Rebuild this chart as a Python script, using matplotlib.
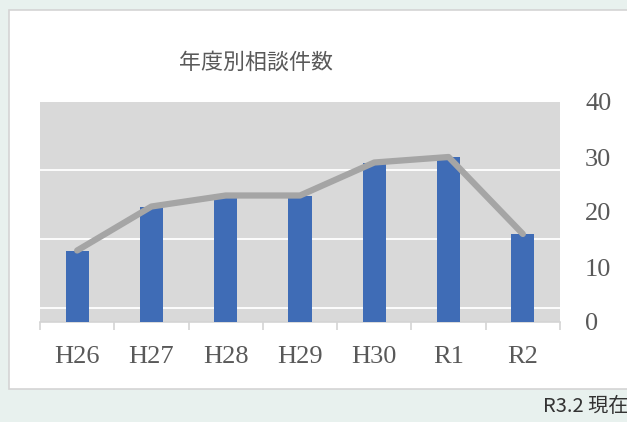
import numpy as np
import matplotlib.pyplot as plt
from matplotlib.patches import Rectangle

# 年度別相談件数
nendo = ['H26', 'H27', 'H28', 'H29', 'H30', 'R1', 'R2']
kensu = [13, 21, 23, 23, 29, 30, 16]
y_ticks = [0, 10, 20, 30, 40]

# hidden primary axis gridlines (Excel), in units of the right axis
grid_y = [2.5, 15.1, 27.6]

bar_color = '#3F6CB6'
line_color = '#A5A5A5'
text_color = '#595959'

fig = plt.figure(figsize=(6.27, 4.22), dpi=100)
fig.patch.set_facecolor('#E8F1EE')

# white chart box
box = Rectangle((9 / 627, (422 - 389) / 422), 1.0, (389 - 10) / 422,
                transform=fig.transFigure, facecolor='white',
                edgecolor='#D4D4D4', linewidth=1.2, zorder=-5)
fig.patches.append(box)

ax = fig.add_axes([40 / 627, (422 - 322) / 422, 520 / 627, 220 / 422])
ax.set_facecolor('#D9D9D9')

x = np.arange(len(nendo))
ax.bar(x, kensu, width=0.31, color=bar_color, zorder=3)
ax.plot(x, kensu, color=line_color, linewidth=4.5, solid_joinstyle='round',
        solid_capstyle='round', zorder=4)

for g in grid_y:
    ax.axhline(g, color='white', linewidth=1.3, zorder=2)

ax.set_xlim(-0.5, len(nendo) - 0.5)
ax.set_ylim(0, 40)

ax.set_xticks(x)
ax.set_xticklabels(nendo, fontfamily='Liberation Serif', fontsize=19, color=text_color)
ax.set_xticks(np.arange(len(nendo) + 1) - 0.5, minor=True)
ax.tick_params(axis='x', which='major', length=0, pad=17)
ax.tick_params(axis='x', which='minor', length=6, width=1.2, color='#D4D4D4')

ax.yaxis.tick_right()
ax.set_yticks(y_ticks)
ax.set_yticklabels([str(v) for v in y_ticks], fontfamily='Liberation Serif',
                   fontsize=19, color=text_color)
ax.tick_params(axis='y', length=0, pad=18)

for s in ['top', 'left', 'right']:
    ax.spines[s].set_visible(False)
ax.spines['bottom'].set_color('#D4D4D4')
ax.spines['bottom'].set_linewidth(1.2)

fig.text(256 / 627, (422 - 63) / 422, '年度別相談件数', ha='center', va='center',
         fontsize=15.8, color=text_color, family=['Noto Sans CJK JP', 'DejaVu Sans'])
fig.text(628 / 627, (422 - 407) / 422, 'R3.2 現在', ha='right', va='center',
         fontsize=14.5, color='#333333', family=['Noto Sans CJK JP', 'DejaVu Sans'])

fig.savefig('out.png', dpi=100, facecolor=fig.get_facecolor())
